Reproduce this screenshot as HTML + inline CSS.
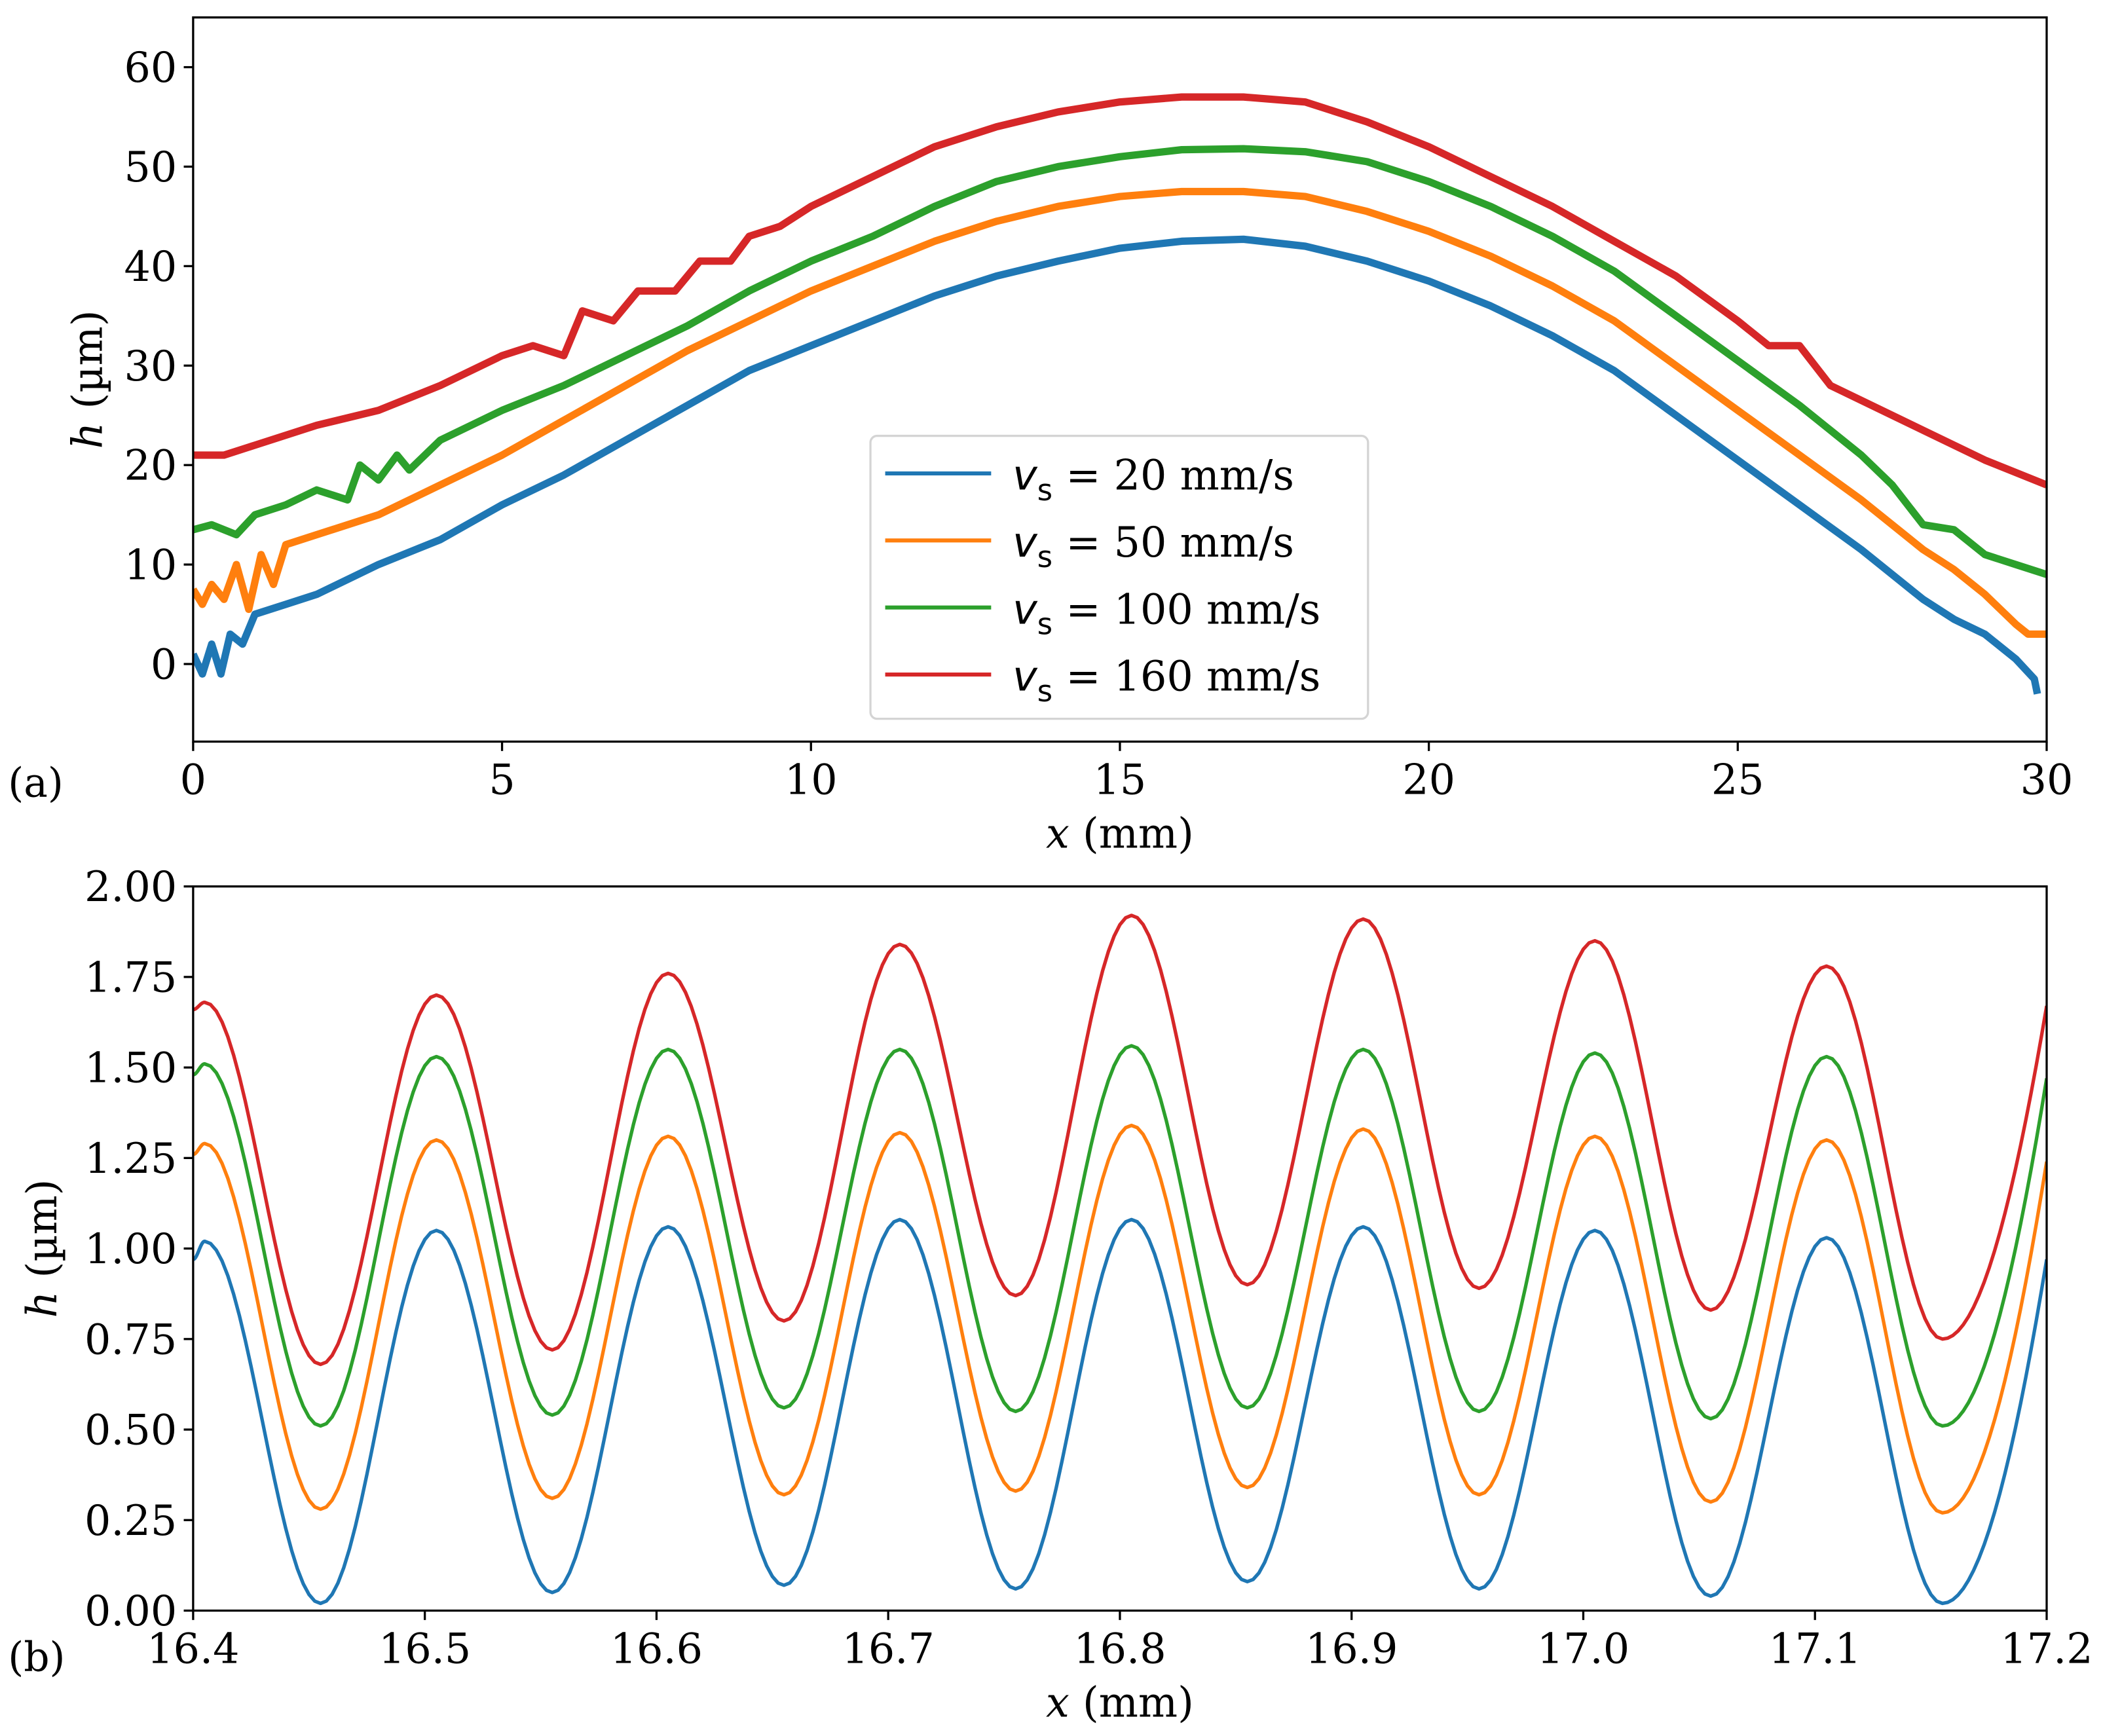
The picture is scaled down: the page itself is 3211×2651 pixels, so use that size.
<!DOCTYPE html>
<html><head><meta charset="utf-8">
<style>
html,body{margin:0;padding:0;background:#fff;}
svg{display:block;}
text{font-family:"DejaVu Serif","Liberation Serif",serif;fill:#000;}
</style></head>
<body>
<svg id="fig" xmlns="http://www.w3.org/2000/svg" width="3211" height="2651" viewBox="0 0 1568 1294.5" preserveAspectRatio="none">
<rect width="1568" height="1294.5" fill="#fff"/>
<g id="pa"></g>
<g id="pb"></g>
</svg>
<script>
// ---- Panel (a) data ----
const aXTicks = [0,5,10,15,20,25,30];
const aYTicks = [0,10,20,30,40,50,60];
const aSeriesNames = ["v20","v50","v100","v160"];
const aColors = ["#1f77b4","#ff7f0e","#2ca02c","#d62728"];
const a20x = [0,0.15,0.3,0.45,0.6,0.8,1,1.5,2,3,4,5,6,7,8,9,10,11,12,13,14,15,16,17,18,19,20,21,22,23,24,25,26,27,28,28.5,29,29.5,29.8,29.85];
const a20y = [1,-1,2,-1,3,2,5,6,7,10,12.5,16,19,22.5,26,29.5,32,34.5,37,39,40.5,41.8,42.5,42.7,42,40.5,38.5,36,33,29.5,25,20.5,16,11.5,6.5,4.5,3,0.5,-1.5,-3];
const a50x = [0,0.15,0.3,0.5,0.7,0.9,1.1,1.3,1.5,2,3,4,5,6,7,8,9,10,11,12,13,14,15,16,17,18,19,20,21,22,23,24,25,26,27,28,28.5,29,29.5,29.7,30];
const a50y = [7.5,6,8,6.5,10,5.5,11,8,12,13,15,18,21,24.5,28,31.5,34.5,37.5,40,42.5,44.5,46,47,47.5,47.5,47,45.5,43.5,41,38,34.5,30,25.5,21,16.5,11.5,9.5,7,4,3,3];
const a100x = [0,0.3,0.7,1,1.5,2,2.5,2.7,3,3.3,3.5,4,4.5,5,6,7,8,9,10,11,12,13,14,15,16,17,18,19,20,21,22,23,24,25,26,27,27.5,28,28.5,29,29.5,30];
const a100y = [13.5,14,13,15,16,17.5,16.5,20,18.5,21,19.5,22.5,24,25.5,28,31,34,37.5,40.5,43,46,48.5,50,51,51.7,51.8,51.5,50.5,48.5,46,43,39.5,35,30.5,26,21,18,14,13.5,11,10,9];
const a160x = [0,0.5,1,2,3,4,5,5.5,6,6.3,6.8,7.2,7.8,8.2,8.7,9,9.5,10,11,12,13,14,15,16,17,18,19,20,21,22,23,24,25,25.5,26,26.5,27,28,29,30];
const a160y = [21,21,22,24,25.5,28,31,32,31,35.5,34.5,37.5,37.5,40.5,40.5,43,44,46,49,52,54,55.5,56.5,57,57,56.5,54.5,52,49,46,42.5,39,34.5,32,32,28,26.5,23.5,20.5,18];
const aLegendLabels = ["20 mm/s","50 mm/s","100 mm/s","160 mm/s"];

// ---- Panel (b) data: extremes of each oscillation ----
const bXTicks = [16.4,16.5,16.6,16.7,16.8,16.9,17.0,17.1,17.2];
const bYTicks = [0,0.25,0.5,0.75,1.0,1.25,1.5,1.75,2.0];
const bPeakX = [16.405,16.505,16.605,16.705,16.805,16.905,17.005,17.105];
const bTroughX = [16.455,16.555,16.655,16.755,16.855,16.955,17.055,17.155];
const b20Peaks = [1.02,1.05,1.06,1.08,1.08,1.06,1.05,1.03];
const b20Troughs = [0.02,0.05,0.07,0.06,0.08,0.06,0.04,0.02];
const b50Peaks = [1.29,1.30,1.31,1.32,1.34,1.33,1.31,1.30];
const b50Troughs = [0.28,0.31,0.32,0.33,0.34,0.32,0.30,0.27];
const b100Peaks = [1.51,1.53,1.55,1.55,1.56,1.55,1.54,1.53];
const b100Troughs = [0.51,0.54,0.56,0.55,0.56,0.55,0.53,0.51];
const b160Peaks = [1.68,1.70,1.76,1.84,1.92,1.91,1.85,1.78];
const b160Troughs = [0.68,0.72,0.80,0.87,0.90,0.89,0.83,0.75];
const bStart = [0.97,1.26,1.48,1.66];
const bEnd = [0.97,1.24,1.47,1.67];

const NS="http://www.w3.org/2000/svg";
function mk(tag, attrs, parent){const e=document.createElementNS(NS,tag);for(const k in attrs)e.setAttribute(k,attrs[k]);parent.appendChild(e);return e;}

const L=144,R=1526;
function axis(g, top, bot, xmin,xmax,ymin,ymax){
  return {x:v=>L+(v-xmin)/(xmax-xmin)*(R-L), y:v=>bot-(v-ymin)/(ymax-ymin)*(bot-top)};
}
function drawAxes(g, ax, top, bot, xt, yt, xfmt, yfmt, prefix){
  for(const t of xt){
    const X=ax.x(t);
    const tk=mk('line',{x1:X,x2:X,y1:bot,y2:bot+7,stroke:'#000','stroke-width':1.6},g);
    
    
    const tl=mk('text',{x:X,y:bot+39,'text-anchor':'middle','font-size':31},g);
    tl.textContent=xfmt(t);
    
    
  }
  for(const t of yt){
    const Y=ax.y(t);
    const tk=mk('line',{x1:L-7,x2:L,y1:Y,y2:Y,stroke:'#000','stroke-width':1.6},g);
    
    
    const tl=mk('text',{x:L-12,y:Y+11,'text-anchor':'end','font-size':31},g);
    tl.textContent=yfmt(t);
    
    
  }
}
function frame(g, top, bot, prefix){
  const r=mk('rect',{x:L,y:top,width:R-L,height:bot-top,fill:'none',stroke:'#000','stroke-width':1.6},g);
  
  
}

// Panel a
(function(){
  const g=document.getElementById('pa');
  const top=13,bot=553;
  const ax=axis(g,top,bot,0,30,-7.8,65);
  const clip=mk('clipPath',{id:'ca'},g); mk('rect',{x:L,y:top,width:R-L,height:bot-top},clip);
  const xs=[a20x,a50x,a100x,a160x], ys=[a20y,a50y,a100y,a160y];
  for(let s=0;s<4;s++){
    let d='';
    for(let i=0;i<xs[s].length;i++) d+=(i?'L':'M')+ax.x(xs[s][i]).toFixed(2)+','+ax.y(ys[s][i]).toFixed(2);
    const p=mk('path',{d:d,fill:'none',stroke:aColors[s],'stroke-width':5.5,'stroke-linejoin':'round','clip-path':'url(#ca)'},g);
    
    
  }
  frame(g,top,bot,'panel-a');
  drawAxes(g,ax,top,bot,aXTicks,aYTicks,t=>String(t),t=>String(t),'panel-a');
  const xl=mk('text',{x:835,y:bot+79,'text-anchor':'middle','font-size':31},g);
  xl.innerHTML='<tspan font-style="italic">x</tspan> (mm)';
  
  
  const yl=mk('text',{x:0,y:0,'text-anchor':'middle','font-size':31,transform:'translate(76,283) rotate(-90)'},g);
  yl.innerHTML='<tspan font-style="italic">h</tspan> (µm)';
  
  
  const pl=mk('text',{x:6,y:594,'font-size':30},g); pl.textContent='(a)';
  
  
  // legend
  const lg=mk('g',{},g);
  
  
  mk('rect',{x:649,y:325,width:371,height:211,rx:5,fill:'#fff','fill-opacity':0.85,stroke:'#d4d4d4','stroke-width':1.6},lg);
  for(let s=0;s<4;s++){
    const Y=353+s*50;
    const e=mk('g',{},lg);
    
    
    mk('line',{x1:660,x2:739,y1:Y,y2:Y,stroke:aColors[s],'stroke-width':3},e);
    const t=mk('text',{x:755,y:Y+12,'font-size':31},e);
    t.innerHTML='<tspan font-family="DejaVu Sans" font-style="italic">v</tspan><tspan font-family="DejaVu Sans" font-size="22" dy="8">s</tspan><tspan dy="-8"> = '+aLegendLabels[s]+'</tspan>';
  }
})();

// Panel b
(function(){
  const g=document.getElementById('pb');
  const top=661,bot=1201;
  const ax=axis(g,top,bot,16.4,17.2,0,2.0);
  const clip=mk('clipPath',{id:'cb'},g); mk('rect',{x:L,y:top-5,width:R-L,height:bot-top+10},clip);
  const P=[b20Peaks,b50Peaks,b100Peaks,b160Peaks], T=[b20Troughs,b50Troughs,b100Troughs,b160Troughs];
  for(let s=0;s<4;s++){
    const kx=[16.4], ky=[bStart[s]];
    for(let i=0;i<bPeakX.length;i++){kx.push(bPeakX[i]);ky.push(P[s][i]);kx.push(bTroughX[i]);ky.push(T[s][i]);}
    kx.push(17.2); ky.push(bEnd[s]);
    let d='';
    for(let i=0;i<kx.length-1;i++){
      const n=20;
      const last=(i===kx.length-2);
      for(let j=0;j<=n;j++){
        if(i>0&&j===0)continue;
        const f=j/n;
        // last segment is a partial half-cycle: follow the cosine from trough toward next peak
        let w, xv, yv;
        if(last){
          const full=bTroughX[1]-bPeakX[0]; // half period
          const frac=(kx[i+1]-kx[i])/full;
          const ph=f*frac;
          const nextPeak=ky[i+1]; 
          w=(1-Math.cos(Math.PI*ph))/2;
          const wEnd=(1-Math.cos(Math.PI*frac))/2;
          xv=kx[i]+(kx[i+1]-kx[i])*f;
          yv=ky[i]+(nextPeak-ky[i])*w/wEnd;
        } else {
          w=(1-Math.cos(Math.PI*f))/2;
          xv=kx[i]+(kx[i+1]-kx[i])*f;
          yv=ky[i]+(ky[i+1]-ky[i])*w;
        }
        d+=(d?'L':'M')+ax.x(xv).toFixed(2)+','+ax.y(yv).toFixed(2);
      }
    }
    const p=mk('path',{d:d,fill:'none',stroke:aColors[s],'stroke-width':2.6,'stroke-linejoin':'round','clip-path':'url(#cb)'},g);
    
    
  }
  frame(g,top,bot,'panel-b');
  drawAxes(g,ax,top,bot,bXTicks,bYTicks,t=>t.toFixed(1),t=>t.toFixed(2),'panel-b');
  const xl=mk('text',{x:835,y:bot+79,'text-anchor':'middle','font-size':31},g);
  xl.innerHTML='<tspan font-style="italic">x</tspan> (mm)';
  
  
  const yl=mk('text',{x:0,y:0,'text-anchor':'middle','font-size':31,transform:'translate(42,931) rotate(-90)'},g);
  yl.innerHTML='<tspan font-style="italic">h</tspan> (µm)';
  
  
  const pl=mk('text',{x:6,y:1246,'font-size':30},g); pl.textContent='(b)';
  
  
})();
</script>
</body></html>
